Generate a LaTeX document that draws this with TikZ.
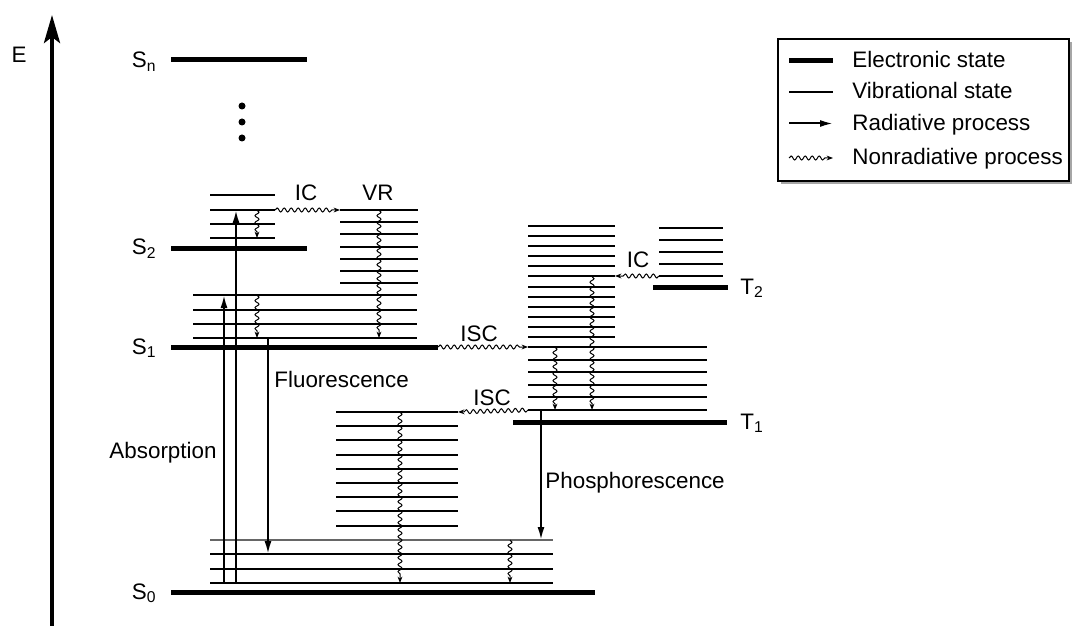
\documentclass[tikz,border=0pt]{standalone}
\usepackage{fontspec}
\setmainfont{Liberation Sans}
\usetikzlibrary{arrows.meta, calc, decorations.pathmorphing}

\begin{document}
\begin{tikzpicture}[
    x=0.5pt, y=-0.5pt,
    font=\fontsize{11.2}{13}\selectfont,
    elec/.style={line width=2.5pt},
    vib/.style={line width=1pt},
    axis/.style={line width=2pt,
                 -{Stealth[length=14pt, width=8pt, inset=3pt]}},
    rad/.style={line width=1pt, -{Latex[length=6.5pt, width=3.5pt]}},
    nonrad/.style={line width=0.5pt, -{Stealth[length=3.2pt, width=2.4pt]},
                   decorate, decoration={snake, amplitude=1pt,
                   segment length=3.5pt, post length=3pt}},
    statelabel/.style={inner sep=0pt},
    proclabel/.style={inner sep=1pt},
    legendtext/.style={anchor=base west, inner sep=0pt},
]
\useasboundingbox (0,0) rectangle (1072,626);

% ---------------- Energy axis -------------------------------------------
\coordinate (ebot) at (52,626);
\coordinate (etop) at (52,15);
\draw[axis] (ebot) -- (etop);
\node[statelabel, anchor=base] (elabel) at (19,63) {E};

% ---------------- Singlet electronic states -----------------------------
\draw[elec] (171,60)  -- (307,60);
\draw[elec] (171,248) -- (307,248);
\draw[elec] (171,347) -- (438,347);
\draw[elec] (171,592) -- (595,592);

\node[statelabel, anchor=base east] (sn) at (157,68)  {S\textsubscript{n}};
\node[statelabel, anchor=base east] (s2) at (157,255) {S\textsubscript{2}};
\node[statelabel, anchor=base east] (s1) at (157,354) {S\textsubscript{1}};
\node[statelabel, anchor=base east] (s0) at (157,599) {S\textsubscript{0}};

% dots between S_n and S_2
\foreach \y in {106,122,138} {%
    \fill (242,\y) circle (1.75pt);
}

% ---------------- Triplet electronic states -----------------------------
\draw[elec] (653,287) -- (728,287);
\draw[elec] (513,422) -- (727,422);

\node[statelabel, anchor=base west] (t2) at (740,294) {T\textsubscript{2}};
\node[statelabel, anchor=base west] (t1) at (740,429) {T\textsubscript{1}};

% ---------------- Vibrational levels ------------------------------------
% S2 ladder and the VR ladder next to it
\foreach \y in {195,210,224,238} {%
    \draw[vib] (210,\y) -- (275,\y);
}
\foreach \i in {0,...,6} {%
    \draw[vib] (340,{210+12.17*\i}) -- (418,{210+12.17*\i});
}

% S1 ladder
\foreach \y in {295,309.5,324,338} {%
    \draw[vib] (193,\y) -- (417,\y);
}

% ladders above T1 (the upper part reaches the T2 region)
\foreach \i in {0,...,11} {%
    \draw[vib] (528,{226+10.09*\i}) -- (615,{226+10.09*\i});
}
\foreach \i in {0,...,5} {%
    \draw[vib] (528,{347+12.6*\i}) -- (707,{347+12.6*\i});
}

% T2 ladder
\foreach \i in {0,...,4} {%
    \draw[vib] (659,{228+12*\i}) -- (723,{228+12*\i});
}

% ladder reached from T1 by ISC
\foreach \i in {0,...,8} {%
    \draw[vib] (336,{412+14.2*\i}) -- (458,{412+14.2*\i});
}

% S0 ladder (top line drawn lighter)
\draw[line width=0.7pt, black!60] (210,540) -- (553,540);
\foreach \y in {554,568.5,583} {%
    \draw[vib] (210,\y) -- (553,\y);
}

% ---------------- Radiative processes -----------------------------------
\coordinate (absAfrom) at (224,583);
\coordinate (absAto)   at (224,295);
\coordinate (absBfrom) at (236,583);
\coordinate (absBto)   at (236,210);
\coordinate (fluofrom) at (268,338);
\coordinate (fluoto)   at (268,554);
\coordinate (phosfrom) at (541,410);
\coordinate (phosto)   at (541,540);

\draw[rad] (absAfrom) -- (absAto);
\draw[rad] (absBfrom) -- (absBto);
\draw[rad] (fluofrom) -- (fluoto);
\draw[rad] (phosfrom) -- (phosto);

\node[proclabel, anchor=base] (absorb) at (163,458) {Absorption};
\node[proclabel, anchor=base west] (fluo) at (272,387) {Fluorescence};
\node[proclabel, anchor=base west] (phos) at (543,488) {Phosphorescence};

% ---------------- Nonradiative processes --------------------------------
\coordinate (icSfrom)  at (275,210);
\coordinate (icSto)    at (340,210);
\coordinate (vrfrom)   at (379,210);
\coordinate (vrto)     at (379,338);
\coordinate (s2wfrom)  at (257,210);
\coordinate (s2wto)    at (257,238);
\coordinate (s1wfrom)  at (257,295);
\coordinate (s1wto)    at (257,338);
\coordinate (iscAfrom) at (438,347);
\coordinate (iscAto)   at (528,347);
\coordinate (icTfrom)  at (659,276);
\coordinate (icTto)    at (615,276);
\coordinate (t1wAfrom) at (555,347);
\coordinate (t1wAto)   at (555,410);
\coordinate (t1wBfrom) at (592,276.5);
\coordinate (t1wBto)   at (592,410);
\coordinate (iscBfrom) at (528,410);
\coordinate (iscBto)   at (458,412);
\coordinate (lowwfrom) at (400,412);
\coordinate (lowwto)   at (400,583);
\coordinate (s0wfrom)  at (510,540);
\coordinate (s0wto)    at (510,583);

\draw[nonrad] (icSfrom)  -- (icSto);
\draw[nonrad] (vrfrom)   -- (vrto);
\draw[nonrad] (s2wfrom)  -- (s2wto);
\draw[nonrad] (s1wfrom)  -- (s1wto);
\draw[nonrad] (iscAfrom) -- (iscAto);
\draw[nonrad] (icTfrom)  -- (icTto);
\draw[nonrad] (t1wAfrom) -- (t1wAto);
\draw[nonrad] (t1wBfrom) -- (t1wBto);
\draw[nonrad] (iscBfrom) -- (iscBto);
\draw[nonrad] (lowwfrom) -- (lowwto);
\draw[nonrad] (s0wfrom)  -- (s0wto);

\node[proclabel, anchor=base] (icS)  at (306,201) {IC};
\node[proclabel, anchor=base] (vr)   at (378,201) {VR};
\node[proclabel, anchor=base] (iscA) at (479,341) {ISC};
\node[proclabel, anchor=base] (icT)  at (638,267) {IC};
\node[proclabel, anchor=base] (iscB) at (492,405) {ISC};

% ---------------- Legend ------------------------------------------------
\fill[black!35] (781,42) rectangle (1072,184);
\draw[line width=0.6pt, fill=white] (778,39) rectangle (1069,181);

\node[legendtext] (leg1) at (852,68)    {Electronic state};
\node[legendtext] (leg2) at (852,99)    {Vibrational state};
\node[legendtext] (leg3) at (852,130.5) {Radiative process};
\node[legendtext] (leg4) at (852,165)   {Nonradiative process};

\draw[elec]   ($(leg1.base west)+(-63,-7)$) -- ($(leg1.base west)+(-19,-7)$);
\draw[vib]    ($(leg2.base west)+(-63,-7)$) -- ($(leg2.base west)+(-19,-7)$);
\draw[rad]    ($(leg3.base west)+(-63,-7)$) -- ($(leg3.base west)+(-19,-7)$);
\draw[nonrad] ($(leg4.base west)+(-63,-7)$) -- ($(leg4.base west)+(-19,-7)$);

\end{tikzpicture}
\end{document}
